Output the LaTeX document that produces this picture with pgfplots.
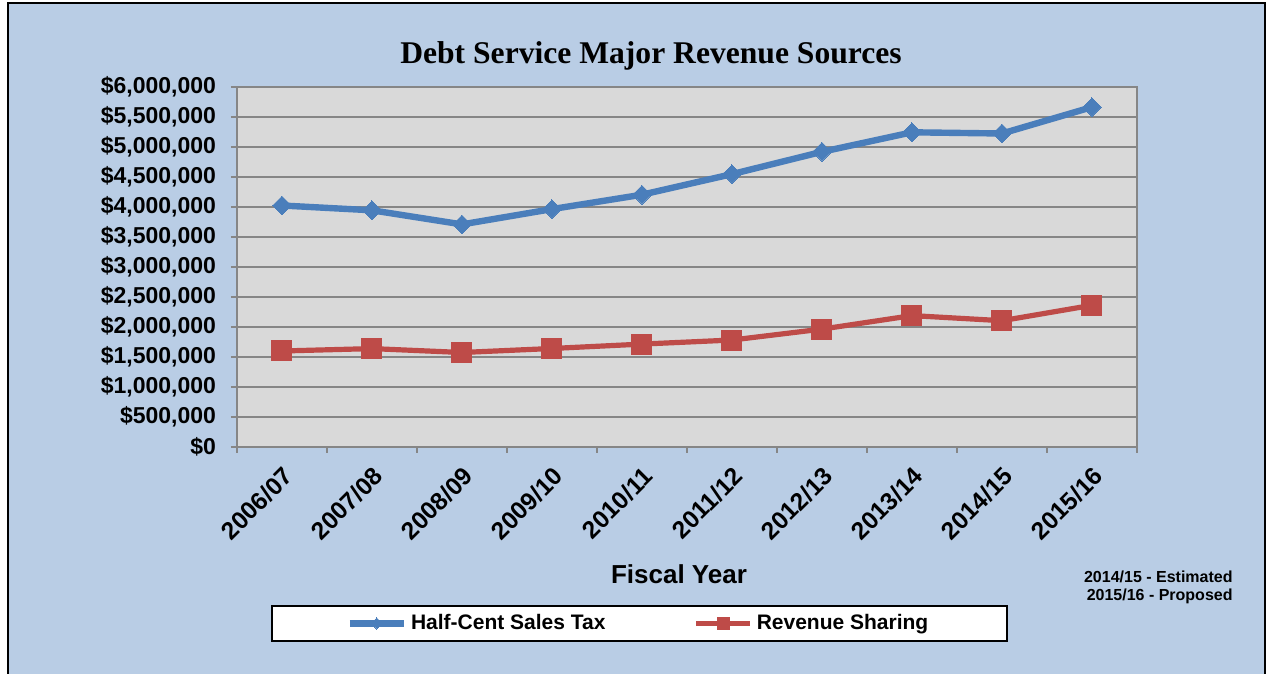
\documentclass[border=0pt]{standalone}
\usepackage{pgfplots}
\pgfplotsset{compat=1.18}
\usepackage{fontspec}
\setmainfont{Liberation Sans}
\newfontfamily\titlefont{Liberation Serif}

\definecolor{outerbg}{HTML}{B9CDE5}
\definecolor{plotbg}{HTML}{D9D9D9}
\definecolor{gridgray}{HTML}{868686}
\definecolor{taxblue}{HTML}{4A7EBB}
\definecolor{sharered}{HTML}{BE4B48}

\begin{document}
\begin{tikzpicture}
% 1 px of the reference = 0.5pt
\useasboundingbox (0,0) rectangle (633pt,337pt);
\fill[white] (0,0) rectangle (633pt,337pt);
\fill[outerbg] (4pt,0) rectangle (632.5pt,335.5pt);
\draw[black, line width=1.2pt] (4pt,0) -- (4pt,335.5pt) -- (632.5pt,335.5pt) -- (632.5pt,0);

\begin{axis}[
    at={(118.5pt,113.5pt)}, anchor=south west,
    scale only axis,
    width=450pt, height=180pt,
    xmin=-0.5, xmax=9.5,
    ymin=0, ymax=6000000,
    xtick={0,...,9},
    xticklabels={2006/07,2007/08,2008/09,2009/10,2010/11,2011/12,2012/13,2013/14,2014/15,2015/16},
    minor xtick={-0.5,0.5,...,9.5},
    ytick={0,500000,...,6000000},
    yticklabels={{\$0},{\$500,000},{\$1,000,000},{\$1,500,000},{\$2,000,000},{\$2,500,000},{\$3,000,000},{\$3,500,000},{\$4,000,000},{\$4,500,000},{\$5,000,000},{\$5,500,000},{\$6,000,000}},
    scaled y ticks=false,
    tick pos=left,
    tick align=outside,
    major tick length=3pt, minor tick length=3pt,
    xtick style={draw=none},
    minor x tick style={draw=gridgray, line width=1pt},
    ytick style={draw=gridgray, line width=1pt},
    ymajorgrids=true,
    grid style={draw=gridgray, line width=1pt},
    axis line style={draw=gridgray, line width=1pt},
    axis background/.style={fill=plotbg},
    yticklabel style={font=\bfseries\fontsize{11.5}{13}\selectfont, xshift=-4pt},
    xticklabel style={font=\bfseries\fontsize{12.3}{14}\selectfont, rotate=45, anchor=east, yshift=-9pt, xshift=-1pt},
    legend columns=2,
    legend style={
        at={(0.4472,-0.4903)}, anchor=center,
        draw=black, line width=1pt, fill=white,
        font=\bfseries\fontsize{10.5}{12}\selectfont,
        inner xsep=37.5pt, inner ysep=2pt,
        /tikz/every even column/.append style={column sep=42pt},
    },
    legend cell align=left,
    legend image code/.code={
        \draw[#1, mark repeat=2, mark phase=2, every mark/.append style={scale=0.6}] plot coordinates {(0pt,0pt) (13.5pt,0pt) (27pt,0pt)};
    },
]

\addplot[color=taxblue, line width=3.2pt, mark=square*,
    mark options={rotate=45, solid, line width=0pt, fill=taxblue}, mark size=3.3pt]
    coordinates {
        (0,4025000)
        (1,3945000)
        (2,3710000)
        (3,3965000)
        (4,4205000)
        (5,4548000)
        (6,4920000)
        (7,5245000)
        (8,5225000)
        (9,5665000)
    };
\addlegendentry{Half-Cent Sales Tax}

\addplot[color=sharered, line width=2.6pt, mark=square*,
    mark options={solid, line width=0pt, fill=sharered}, mark size=5pt]
    coordinates {
        (0,1600000)
        (1,1640000)
        (2,1575000)
        (3,1642000)
        (4,1715000)
        (5,1783000)
        (6,1965000)
        (7,2190000)
        (8,2105000)
        (9,2362000)
    };
\addlegendentry{Revenue Sharing}
\end{axis}

\node[font=\titlefont\bfseries\fontsize{15.8}{18}\selectfont] at (325.5pt,309pt) {Debt Service Major Revenue Sources};
\node[font=\bfseries\fontsize{13}{15}\selectfont] at (339.5pt,50pt) {Fiscal Year};
\node[font=\bfseries\fontsize{8}{9}\selectfont, align=right, anchor=east, inner sep=0pt] at (616.5pt,43.5pt) {2014/15 - Estimated\\2015/16 - Proposed};
\end{tikzpicture}
\end{document}
